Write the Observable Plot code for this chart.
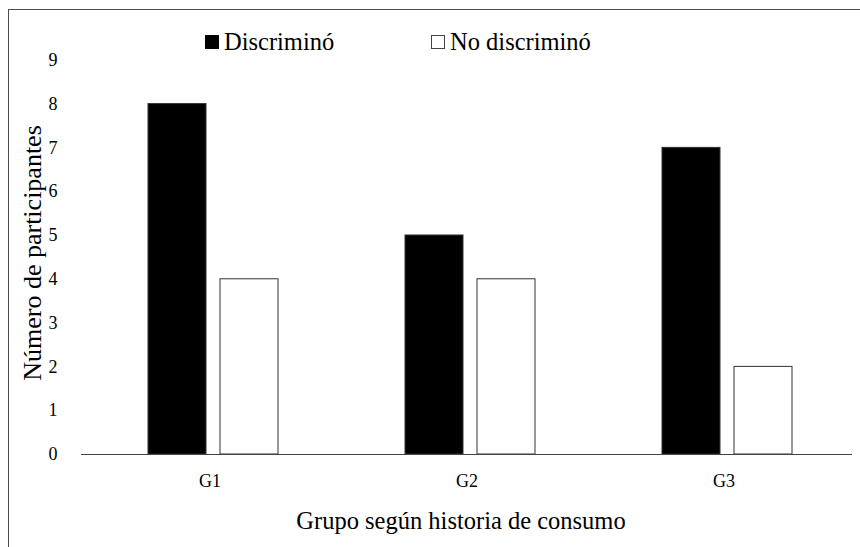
<!DOCTYPE html>
<html>
<head>
<meta charset="utf-8">
<script src="https://cdn.jsdelivr.net/npm/d3@7"></script>
<script src="https://cdn.jsdelivr.net/npm/@observablehq/plot@0.6"></script>
<style>
  html, body { margin: 0; padding: 0; background: #fff; overflow: hidden; }
  #wrap { position: relative; width: 860px; height: 547px; font-family: "Liberation Serif", "Times New Roman", serif; color: #000; }
  #frame { position: absolute; left: 8px; top: 9px; width: 900px; height: 600px; border-left: 1.5px solid #4d4d4d; border-top: 1.5px solid #4d4d4d; box-sizing: border-box; z-index: 5; pointer-events: none; }
  #chart { position: absolute; left: 0; top: 0; }
  .legend { position: absolute; top: 25px; font-family: "Liberation Serif", "Times New Roman", serif; font-size: 24.5px; line-height: 34px; white-space: nowrap; display: flex; align-items: center; }
  .sw { display: inline-block; width: 14px; height: 14px; box-sizing: border-box; margin-right: 5px; border: 1px solid #000; }
  #ytitle { position: absolute; left: 33px; top: 253px; font-family: "Liberation Serif", "Times New Roman", serif; font-size: 26px; white-space: nowrap; transform: translate(-50%, -50%) rotate(-90deg); }
  #xtitle { position: absolute; left: 461px; top: 521px; font-family: "Liberation Serif", "Times New Roman", serif; font-size: 24.5px; white-space: nowrap; transform: translate(-50%, -50%); }
</style>
</head>
<body>
<div id="wrap">
  <div id="chart"></div>
  <div id="legend"></div>
  <div id="ytitle"></div>
  <div id="xtitle"></div>
  <div id="frame"></div>
</div>
<script>
const groups = ["G1", "G2", "G3"];
const series = ["Discriminó", "No discriminó"];
const discrimino = [8, 5, 7];
const noDiscrimino = [4, 4, 2];
const yTicks = [0, 1, 2, 3, 4, 5, 6, 7, 8, 9];
const seriesFill = ["#000000", "#ffffff"];
const yTitle = "Número de participantes";
const xTitle = "Grupo según historia de consumo";

const data = groups.flatMap((g, i) => [
  {group: g, serie: series[0], value: discrimino[i]},
  {group: g, serie: series[1], value: noDiscrimino[i]}
]);

const chart = Plot.plot({
  width: 860,
  height: 547,
  marginLeft: 80,
  marginRight: 7,
  marginTop: 51,
  marginBottom: 93,
  style: {fontFamily: "'Liberation Serif', 'Times New Roman', serif", fontSize: "18px", color: "#000", background: "transparent"},
  fx: {domain: groups, padding: 0, label: null, axis: "bottom", tickSize: 0, tickPadding: 20},
  x: {domain: series, axis: null, paddingInner: 0.192, paddingOuter: 0.861, align: 0.53},
  y: {domain: [0, 9.2], label: null, axis: null},
  color: {domain: series, range: seriesFill},
  marks: [
    Plot.barY(data, {fx: "group", x: "serie", y: "value", fill: "serie", stroke: "#333", strokeWidth: 1}),
    Plot.ruleY([0], {stroke: "#444", strokeWidth: 1.2}),
    Plot.axisY(yTicks, {tickSize: 0, tickPadding: 24, line: true, stroke: "#555", label: null, fontSize: 18})
  ]
});
document.getElementById("chart").appendChild(chart);

// legend
const legend = document.getElementById("legend");
const legendX = [205, 431];
series.forEach((s, i) => {
  const item = document.createElement("div");
  item.className = "legend";
  item.style.left = legendX[i] + "px";
  const sw = document.createElement("span");
  sw.className = "sw";
  sw.style.background = seriesFill[i];
  sw.style.borderColor = i === 0 ? "#000" : "#444";
  item.appendChild(sw);
  item.appendChild(document.createTextNode(s));
  legend.appendChild(item);
});
document.getElementById("ytitle").textContent = yTitle;
document.getElementById("xtitle").textContent = xTitle;
</script>
</body>
</html>
